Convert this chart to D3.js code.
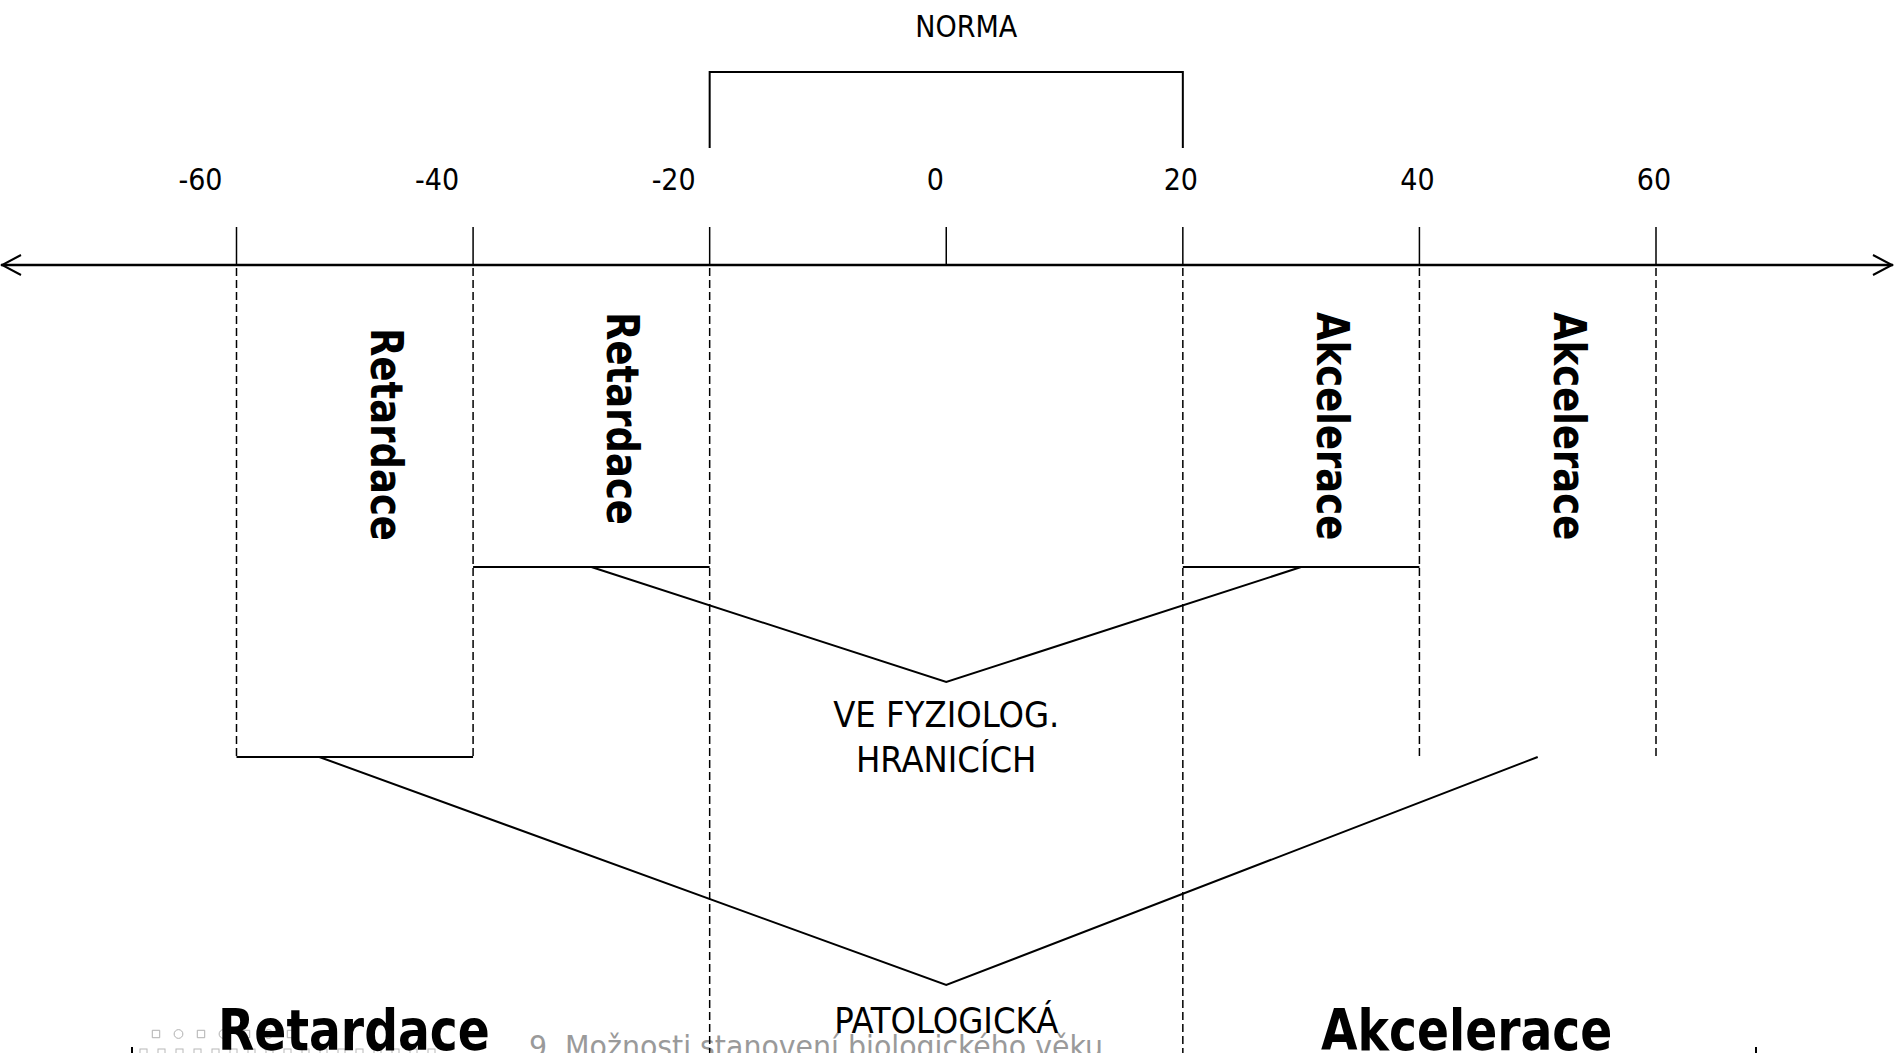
<!DOCTYPE html>
<html>
<head>
<meta charset="utf-8">
<title>Retardace / Akcelerace</title>
<script src="https://cdn.jsdelivr.net/npm/d3@7"></script>
<style>
    html, body { margin: 0; padding: 0; background: #fff; overflow: hidden; }
    svg { display: block; }
</style>
</head>
<body>
<div id="chart"></div>
<script>
'use strict';

// axis values (biological vs. chronological age difference)
let tickValues = [-60, -40, -20, 0, 20, 40, 60];
let boundaryValues = [-60, -40, -20, 20, 40, 60];
let normaRange = [-20, 20];

// which boundaries run down to the bottom of the slide
let fullBoundaries = [-20, 20];

// rotated labels between boundaries
let zoneFrom = [-60, -40, 20, 40];
let zoneTo = [-40, -20, 40, 60];
let zoneLabels = ['Retardace', 'Retardace', 'Akcelerace', 'Akcelerace'];

// the two "V" brackets
let bracketLevels = ['fyziolog', 'patolog'];
let bracketBars = [[[-40, -20], [20, 40]], [[-60, -40]]];
let bracketLegs = [[-30, 30], [-53, 50]];
let bracketLabels = [['VE FYZIOLOG.', 'HRANICÍCH'], ['PATOLOGICKÁ']];

let bottomLabels = ['Retardace', 'Akcelerace'];
let footerText = '9. Možnosti stanovení biologického věku';

let width = 1897,
    height = 1053;

let x = d3.scaleLinear()
    .domain([-60, 60])
    .range([236.5, 1656]);

// vertical levels of the drawing
let yLevel = d3.scaleOrdinal()
    .domain(['norma', 'axis', 'fyziolog', 'patolog', 'bottom'])
    .range([72, 265, 567, 757, height]);
let yApex = d3.scaleOrdinal()
    .domain(bracketLevels)
    .range([682, 985]);
let yLabel = d3.scaleOrdinal()
    .domain(bracketLevels)
    .range([727, 1033]);

let font = '"DejaVu Sans Condensed", "DejaVu Sans", sans-serif';

let svg = d3.select('#chart')
    .append('svg')
    .attr('width', width)
    .attr('height', height);

// footer decoration of the slide (drawn first, text lies on top)
let marks = d3.range(7);
svg.append('g')
    .attr('fill', 'none')
    .attr('stroke', '#b0b0b0')
    .attr('stroke-width', 1)
    .selectAll('path')
    .data(marks)
    .enter().append('path')
    .attr('d', function(d) {
        if (d % 2 === 1) {
            return d3.symbol().type(d3.symbolCircle).size(60)();
        }
        return d3.symbol().type(d3.symbolSquare).size(55)();
    })
    .attr('transform', function(d) {
        return 'translate(' + (156 + d * 22.5) + ',1034)';
    });

svg.append('g')
    .attr('fill', 'none')
    .attr('stroke', '#b8b8b8')
    .attr('stroke-width', 1)
    .selectAll('rect')
    .data(d3.range(17))
    .enter().append('rect')
    .attr('x', function(d) {
        return 140 + d * 18;
    })
    .attr('y', 1049)
    .attr('width', 7)
    .attr('height', 7);

svg.append('text')
    .attr('x', 529)
    .attr('y', 1057)
    .attr('font-family', font)
    .attr('font-size', 30)
    .attr('fill', '#9a9a9a')
    .attr('textLength', 574)
    .attr('lengthAdjust', 'spacingAndGlyphs')
    .text(footerText);

// main axis with open arrow heads
let axisY = yLevel('axis');
svg.append('line')
    .attr('x1', 1)
    .attr('x2', 1893)
    .attr('y1', axisY)
    .attr('y2', axisY)
    .attr('stroke', '#000')
    .attr('stroke-width', 2.5);

svg.append('path')
    .attr('fill', 'none')
    .attr('stroke', '#000')
    .attr('stroke-width', 2)
    .attr('d', 'M21,' + (axisY - 10) + 'L2,' + axisY + 'L21,' + (axisY + 10) +
        'M1873,' + (axisY - 10) + 'L1892,' + axisY + 'L1873,' + (axisY + 10));

// tick marks above the axis
svg.append('g')
    .attr('stroke', '#000')
    .attr('stroke-width', 1.5)
    .selectAll('line')
    .data(tickValues)
    .enter().append('line')
    .attr('x1', function(d) {
        return x(d);
    })
    .attr('x2', function(d) {
        return x(d);
    })
    .attr('y1', axisY - 38)
    .attr('y2', axisY);

// tick labels
svg.append('g')
    .attr('font-family', font)
    .attr('font-size', 30)
    .attr('text-anchor', 'middle')
    .selectAll('text')
    .data(tickValues)
    .enter().append('text')
    .attr('x', function(d) {
        let shift = d < 0 ? -36 : (d === 0 ? -11 : -2);
        return x(d) + shift;
    })
    .attr('y', 190)
    .text(function(d) {
        return d;
    });

// dashed boundaries below the axis
svg.append('g')
    .attr('stroke', '#000')
    .attr('stroke-width', 1.5)
    .attr('stroke-dasharray', '8,4')
    .selectAll('line')
    .data(boundaryValues)
    .enter().append('line')
    .attr('x1', function(d) {
        return x(d);
    })
    .attr('x2', function(d) {
        return x(d);
    })
    .attr('y1', axisY + 3)
    .attr('y2', function(d) {
        return fullBoundaries.includes(d) ? yLevel('bottom') : yLevel('patolog');
    });

// NORMA bracket
let normaY = yLevel('norma');
svg.append('path')
    .attr('fill', 'none')
    .attr('stroke', '#000')
    .attr('stroke-width', 2)
    .attr('d', 'M' + x(normaRange[0]) + ',148V' + normaY + 'H' + x(normaRange[1]) + 'V148');

svg.append('text')
    .attr('x', x(0) + 20)
    .attr('y', 37)
    .attr('font-family', font)
    .attr('font-size', 30)
    .attr('text-anchor', 'middle')
    .text('NORMA');

// rotated zone labels
svg.append('g')
    .attr('font-family', '"DejaVu Sans", sans-serif')
    .attr('font-weight', 'bold')
    .attr('font-size', 37)
    .selectAll('text')
    .data(zoneLabels)
    .enter().append('text')
    .attr('transform', function(d, i) {
        let cx = x((zoneFrom[i] + zoneTo[i]) / 2) + 16;
        let top = i === 0 ? 328 : 312;
        return 'translate(' + cx + ',' + top + ') rotate(90) scale(1,1.2)';
    })
    .text(function(d) {
        return d;
    });

// V brackets: horizontal bars, two legs meeting at zero, label under the apex
bracketLevels.forEach(function(level, i) {
    let g = svg.append('g');
    let yy = yLevel(level);

    g.selectAll('line')
        .data(bracketBars[i])
        .enter().append('line')
        .attr('x1', function(d) {
            return x(d[0]);
        })
        .attr('x2', function(d) {
            return x(d[1]);
        })
        .attr('y1', yy)
        .attr('y2', yy)
        .attr('stroke', '#000')
        .attr('stroke-width', 2);

    let legs = [[x(bracketLegs[i][0]), yy], [x(0), yApex(level)], [x(bracketLegs[i][1]), yy]];
    g.append('path')
        .attr('fill', 'none')
        .attr('stroke', '#000')
        .attr('stroke-width', 2)
        .attr('d', d3.line()(legs));

    g.append('text')
        .attr('font-family', font)
        .attr('font-size', 36)
        .attr('text-anchor', 'middle')
        .selectAll('tspan')
        .data(bracketLabels[i])
        .enter().append('tspan')
        .attr('x', x(0))
        .attr('y', function(d, j) {
            return yLabel(level) + j * 45;
        })
        .text(function(d) {
            return d;
        });
});

// big bold labels at the bottom
svg.append('g')
    .attr('font-family', font)
    .attr('font-weight', 'bold')
    .attr('font-size', 52.5)
    .selectAll('text')
    .data(bottomLabels)
    .enter().append('text')
    .attr('transform', function(d, i) {
        let left = i === 0 ? 218 : 1321;
        return 'translate(' + left + ',1050) scale(1,1.1)';
    })
    .text(function(d) {
        return d;
    });

// small black marks at the lower edge
svg.append('g')
    .attr('stroke', '#000')
    .attr('stroke-width', 2)
    .selectAll('line')
    .data([132, 1756])
    .enter().append('line')
    .attr('x1', function(d) {
        return d;
    })
    .attr('x2', function(d) {
        return d;
    })
    .attr('y1', 1047)
    .attr('y2', 1053);
</script>
</body>
</html>
